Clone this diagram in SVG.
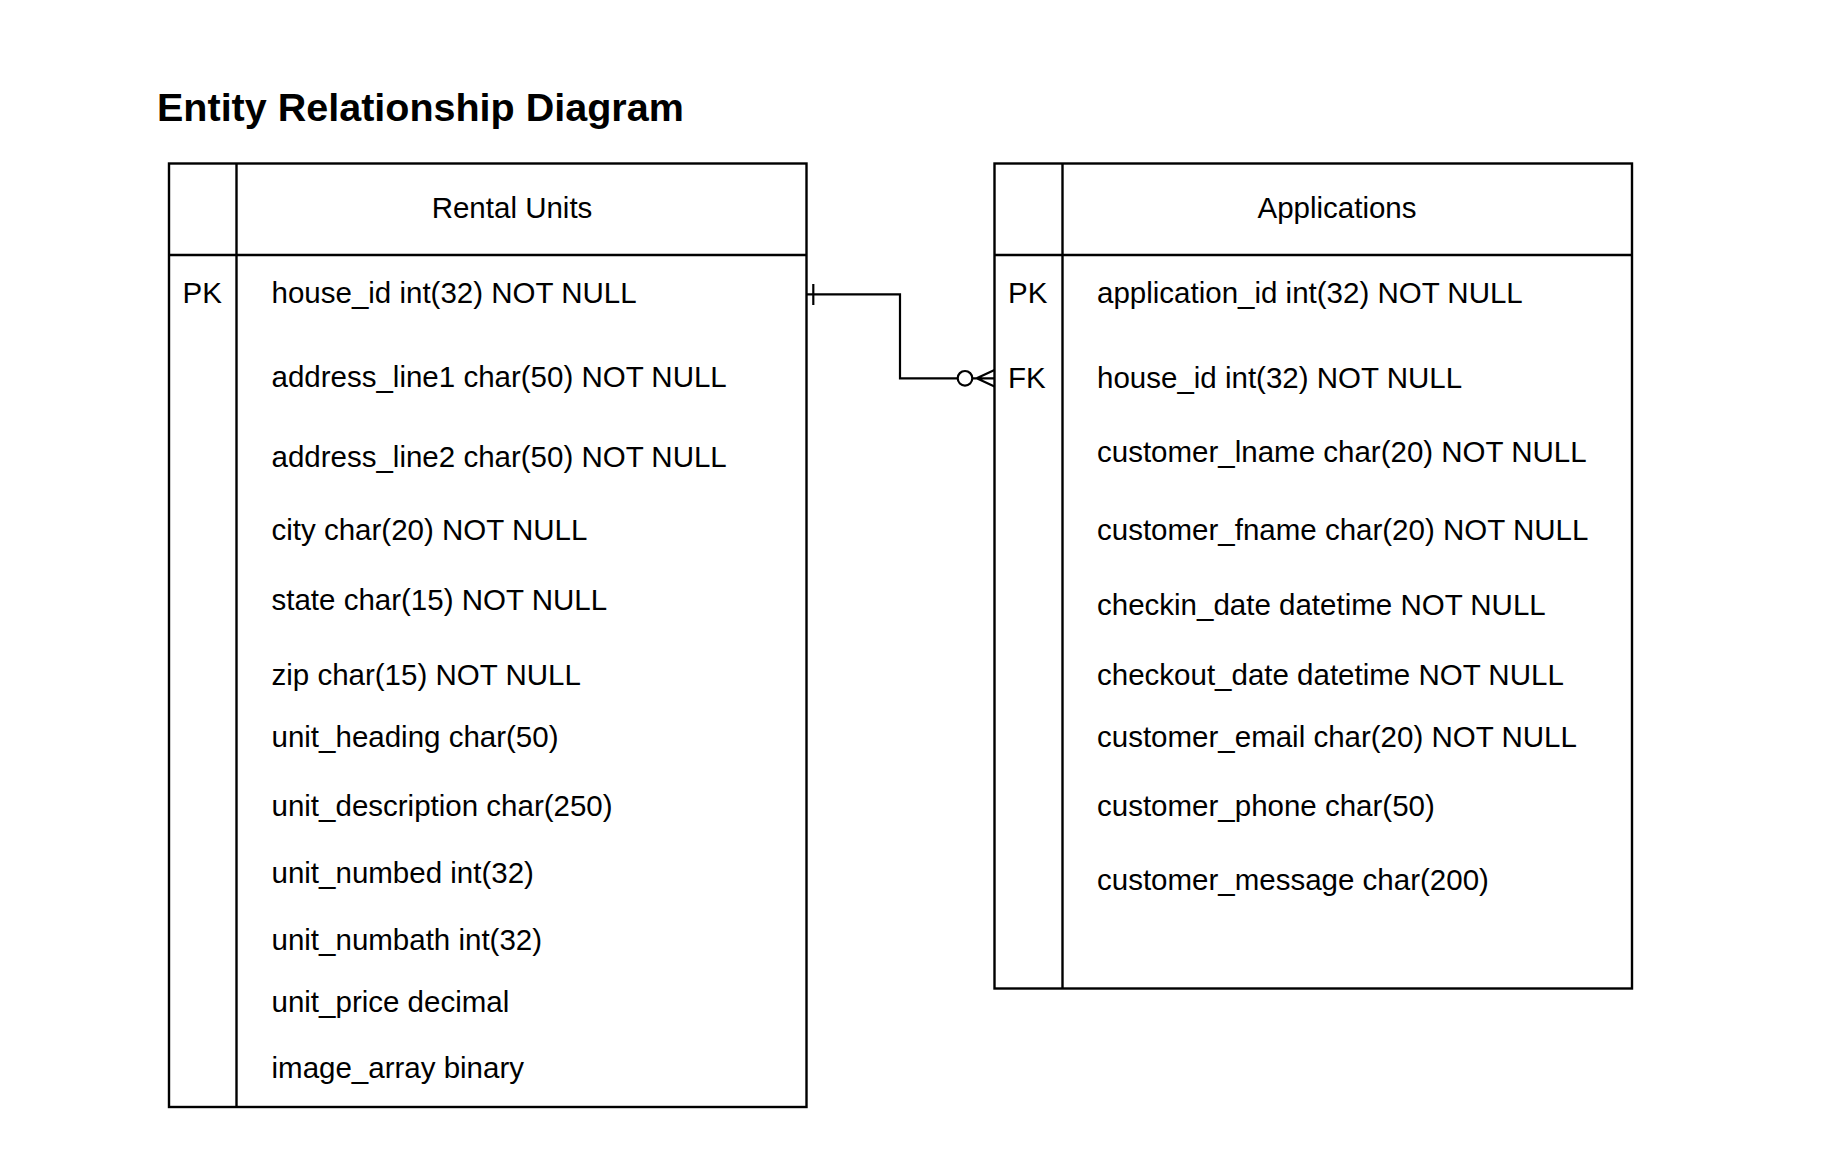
<svg xmlns="http://www.w3.org/2000/svg" width="1830" height="1156" viewBox="0 0 1830 1156">
<style>
.t{font-family:"Liberation Sans",Arial,sans-serif;font-size:29.5px;fill:#000}
.h{font-family:"Liberation Sans",Arial,sans-serif;font-size:29.5px;fill:#000;text-anchor:middle}
.ttl{font-family:"Liberation Sans",Arial,sans-serif;font-size:39.5px;font-weight:bold;fill:#000}
.box{fill:#fff;stroke:#000;stroke-width:2.4}
.ln{fill:none;stroke:#000;stroke-width:2.4}
.cn{fill:none;stroke:#000;stroke-width:2.2}
</style>
<rect width="1830" height="1156" fill="#fff"/>
<text class="ttl" x="157" y="121">Entity Relationship Diagram</text>

<g id="rental_units">
<rect class="box" x="169" y="163.5" width="637.5" height="943.5"/>
<line class="ln" x1="169" y1="255" x2="806.5" y2="255"/>
<line class="ln" x1="236.5" y1="163.5" x2="236.5" y2="1107"/>
<text class="h" x="512" y="218">Rental Units</text>
<text class="t" x="182.5" y="303">PK</text>
<text class="t" x="271.5" y="303">house_id int(32) NOT NULL</text>
<text class="t" x="271.5" y="387">address_line1 char(50) NOT NULL</text>
<text class="t" x="271.5" y="466.5">address_line2 char(50) NOT NULL</text>
<text class="t" x="271.5" y="540">city char(20) NOT NULL</text>
<text class="t" x="271.5" y="610">state char(15) NOT NULL</text>
<text class="t" x="271.5" y="685">zip char(15) NOT NULL</text>
<text class="t" x="271.5" y="746.5">unit_heading char(50)</text>
<text class="t" x="271.5" y="816">unit_description char(250)</text>
<text class="t" x="271.5" y="882.5">unit_numbed int(32)</text>
<text class="t" x="271.5" y="950">unit_numbath int(32)</text>
<text class="t" x="271.5" y="1011.5">unit_price decimal</text>
<text class="t" x="271.5" y="1078">image_array binary</text>
</g>

<g id="applications">
<rect class="box" x="994.5" y="163.5" width="637.5" height="825"/>
<line class="ln" x1="994.5" y1="255" x2="1632" y2="255"/>
<line class="ln" x1="1062.5" y1="163.5" x2="1062.5" y2="988.5"/>
<text class="h" x="1337" y="218">Applications</text>
<text class="t" x="1008" y="303">PK</text>
<text class="t" x="1008" y="387.5">FK</text>
<text class="t" x="1097" y="303">application_id int(32) NOT NULL</text>
<text class="t" x="1097" y="387.5">house_id int(32) NOT NULL</text>
<text class="t" x="1097" y="461.5">customer_lname char(20) NOT NULL</text>
<text class="t" x="1097" y="540">customer_fname char(20) NOT NULL</text>
<text class="t" x="1097" y="615">checkin_date datetime NOT NULL</text>
<text class="t" x="1097" y="685">checkout_date datetime NOT NULL</text>
<text class="t" x="1097" y="746.5">customer_email char(20) NOT NULL</text>
<text class="t" x="1097" y="816">customer_phone char(50)</text>
<text class="t" x="1097" y="890">customer_message char(200)</text>
</g>

<g id="connectors">
<path class="cn" d="M806.5 294.3 H900 V378.3 H957.7"/>
<line class="cn" x1="813.3" y1="284" x2="813.3" y2="305"/>
<circle class="cn" cx="965" cy="378.3" r="7.3"/>
<path class="cn" d="M972.3 378.3 H994.5 M976.7 378.3 L994.5 370 M976.7 378.3 L994.5 386.6"/>
</g>
</svg>
